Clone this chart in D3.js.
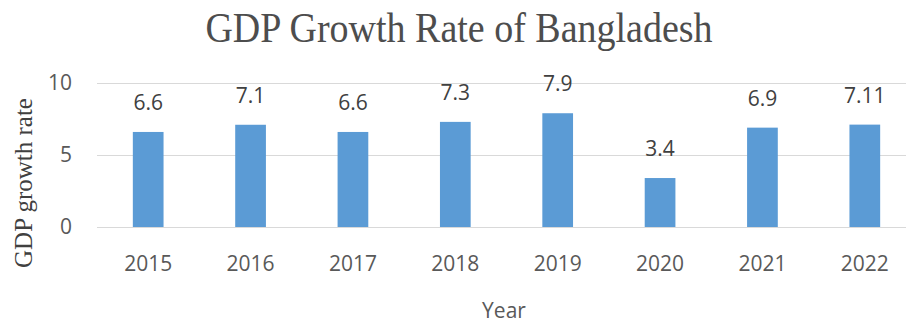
<!DOCTYPE html>
<html>
<head>
<meta charset="utf-8">
<script src="https://cdn.jsdelivr.net/npm/d3@7"></script>
<style>
  body { margin: 0; background: #fff; }
  svg { display: block; }
</style>
</head>
<body>
<div id="chart"></div>
<script>
// data
const years = ["2015", "2016", "2017", "2018", "2019", "2020", "2021", "2022"];
const growth = [6.6, 7.1, 6.6, 7.3, 7.9, 3.4, 6.9, 7.11];
const growthLabels = ["6.6", "7.1", "6.6", "7.3", "7.9", "3.4", "6.9", "7.11"];
const yTicks = [0, 5, 10];

const width = 906, height = 324;
const plot = { left: 97, right: 916, top: 83, bottom: 227 };

const svg = d3.select("#chart").append("svg")
    .attr("width", width)
    .attr("height", height);

const x = d3.scaleBand()
    .domain(years)
    .range([plot.left, plot.right])
    .paddingInner(0.7)
    .paddingOuter(0.35);

const y = d3.scaleLinear()
    .domain([0, 10])
    .range([plot.bottom, plot.top]);

// gridlines
svg.append("g")
    .selectAll("line")
    .data(yTicks)
    .join("line")
    .attr("x1", plot.left)
    .attr("x2", width)
    .attr("y1", d => Math.round(y(d)) + 0.5)
    .attr("y2", d => Math.round(y(d)) + 0.5)
    .attr("stroke", "#d9d9d9")
    .attr("stroke-width", 1);

// y tick labels
const yAxis = svg.append("g")
    .attr("transform", `translate(${plot.left - 25},0)`)
    .call(d3.axisLeft(y).tickValues(yTicks).tickSize(0).tickPadding(0));
yAxis.select(".domain").remove();
yAxis.selectAll("text")
    .attr("fill", "#595959")
    .style("font-family", "'Open Sans', sans-serif")
    .style("font-size", "21px");

// x tick labels
const xAxis = svg.append("g")
    .attr("transform", `translate(0,${plot.bottom})`)
    .call(d3.axisBottom(x).tickSize(0).tickPadding(0));
xAxis.select(".domain").remove();
xAxis.selectAll("text")
    .attr("y", 44)
    .attr("dy", null)
    .attr("fill", "#595959")
    .style("font-family", "'Open Sans', sans-serif")
    .style("font-size", "21px");

// bars
svg.append("g")
    .selectAll("rect")
    .data(growth)
    .join("rect")
    .attr("x", (d, i) => x(years[i]))
    .attr("y", d => y(d))
    .attr("width", x.bandwidth())
    .attr("height", d => y(0) - y(d))
    .attr("fill", "#5b9bd5");

// value labels
svg.append("g")
    .selectAll("text")
    .data(growth)
    .join("text")
    .attr("x", (d, i) => x(years[i]) + x.bandwidth() / 2)
    .attr("y", d => y(d) - 22)
    .attr("text-anchor", "middle")
    .attr("fill", "#404040")
    .style("font-family", "'Open Sans', sans-serif")
    .style("font-size", "21px")
    .text((d, i) => growthLabels[i]);

// title (the original is a little taller than Liberation Serif)
svg.append("text")
    .attr("transform", "translate(459,42) scale(1,1.1)")
    .attr("text-anchor", "middle")
    .attr("fill", "#4d4d4d")
    .style("font-family", "'Liberation Serif', serif")
    .style("font-size", "38px")
    .text("GDP Growth Rate of Bangladesh");

// axis titles
svg.append("text")
    .attr("transform", "translate(32,183) rotate(-90)")
    .attr("text-anchor", "middle")
    .attr("fill", "#404040")
    .style("font-family", "'Liberation Serif', serif")
    .style("font-size", "25px")
    .text("GDP growth rate");

svg.append("text")
    .attr("x", 504)
    .attr("y", 318)
    .attr("text-anchor", "middle")
    .attr("fill", "#595959")
    .style("font-family", "'Open Sans', sans-serif")
    .style("font-size", "21px")
    .text("Year");
</script>
</body>
</html>
